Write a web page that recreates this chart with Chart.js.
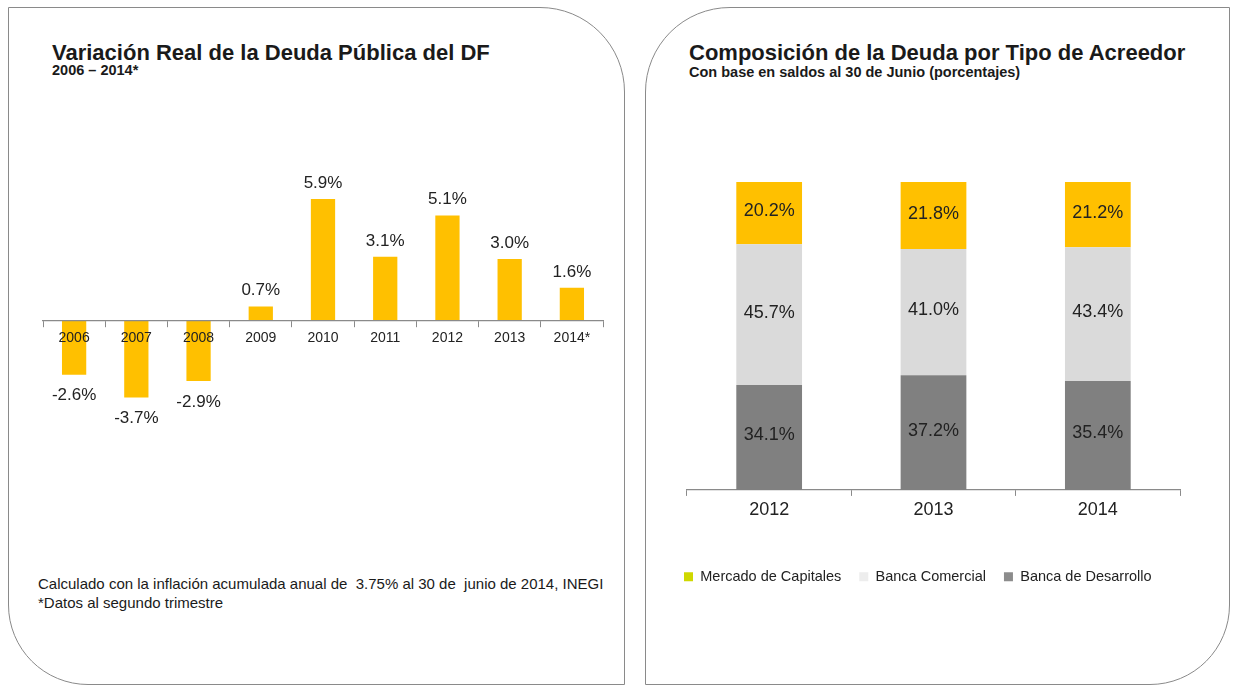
<!DOCTYPE html>
<html>
<head>
<meta charset="utf-8">
<script src="https://cdn.jsdelivr.net/npm/chart.js@4.4.1/dist/chart.umd.min.js"></script>
<style>
  body { margin: 0; background: #fff; width: 1236px; height: 685px; position: relative; overflow: hidden;
         font-family: "Liberation Sans", Arial, sans-serif; color: #1a1a1a; }
  .panel { position: absolute; border: 1.5px solid #8a8a8a; box-sizing: border-box; }
  #panelLeft { left: 8px; top: 7px; width: 617px; height: 678px; border-radius: 0 85px 0 80px; }
  #panelRight { left: 645px; top: 7px; width: 585px; height: 678px; border-radius: 85px 0 80px 0; }
  .title { position: absolute; font-weight: bold; font-size: 22px; line-height: 22px; white-space: nowrap; }
  .sub { position: absolute; font-weight: bold; font-size: 14.5px; line-height: 15px; white-space: nowrap; }
  .note { position: absolute; font-size: 15px; line-height: 15px; white-space: pre; left: 38px; }
  canvas { position: absolute; }
</style>
</head>
<body>
<div class="panel" id="panelLeft"></div>
<div class="panel" id="panelRight"></div>

<div class="title" style="left:52px; top:42px;">Variación Real de la Deuda Pública del DF</div>
<div class="sub" style="left:52px; top:63px;">2006 – 2014*</div>

<div class="title" style="left:689px; top:42px;">Composición de la Deuda por Tipo de Acreedor</div>
<div class="sub" style="left:689px; top:65px;">Con base en saldos al 30 de Junio (porcentajes)</div>

<div class="note" style="top:576px;">Calculado con la inflación acumulada anual de  3.75% al 30 de  junio de 2014, INEGI</div>
<div class="note" style="top:595px;">*Datos al segundo trimestre</div>

<div style="position:absolute; left:30px; top:140px; width:595px; height:320px;"><canvas id="variacion"></canvas></div>
<div style="position:absolute; left:660px; top:140px; width:570px; height:460px;"><canvas id="composicion"></canvas></div>

<script>
// datos: variacion real anual (%)
const years = ['2006', '2007', '2008', '2009', '2010', '2011', '2012', '2013', '2014*'];
const realChange = [-2.6, -3.7, -2.9, 0.7, 5.9, 3.1, 5.1, 3.0, 1.6];

// datos: composicion por acreedor (%)
const compYears = ['2012', '2013', '2014'];
const mercadoCapitales = [20.2, 21.8, 21.2];
const bancaComercial = [45.7, 41.0, 43.4];
const bancaDesarrollo = [34.1, 37.2, 35.4];

const YELLOW = '#FFC000';
const LIGHT = '#DADADA';
const DARK = '#808080';
// colores de los marcadores de la leyenda, como salen en el original
const legendMarks = ['#8C8C8C', '#EDEDED', '#CFD800'];

// etiquetas de valor sobre / dentro de las barras
const valueLabels = {
  id: 'valueLabels',
  afterDatasetsDraw(chart, args, opts) {
    const ctx = chart.ctx;
    ctx.save();
    ctx.font = opts.font;
    ctx.fillStyle = opts.color;
    ctx.textAlign = 'center';
    ctx.textBaseline = 'middle';
    chart.data.datasets.forEach(function(ds, i) {
      chart.getDatasetMeta(i).data.forEach(function(bar, j) {
        const v = ds.data[j];
        let y;
        if (opts.inside) {
          y = (bar.y + bar.base) / 2 - 2;
        } else {
          y = v >= 0 ? bar.y - opts.up : bar.y + opts.down;
        }
        ctx.fillText(v.toFixed(1) + '%', bar.x, y);
      });
    });
    ctx.restore();
  }
};

Chart.defaults.font.family = '"Liberation Sans", Arial, sans-serif';
Chart.defaults.color = '#1a1a1a';
Chart.defaults.animation = false;

new Chart(document.getElementById('variacion'), {
  type: 'bar',
  data: {
    labels: years,
    datasets: [{
      data: realChange,
      backgroundColor: YELLOW,
      barPercentage: 0.39,
      categoryPercentage: 1
    }]
  },
  options: {
    responsive: true,
    maintainAspectRatio: false,
    layout: { padding: { left: 13, right: 22, top: 46.5, bottom: 46 } },
    plugins: {
      legend: { display: false },
      tooltip: { enabled: false },
      valueLabels: { font: '17px "Liberation Sans", Arial, sans-serif', color: '#222', up: 16, down: 21 }
    },
    scales: {
      x: {
        position: { y: 0 },
        offset: true,
        // ejes y etiquetas por encima de las barras, como en el original
        grid: { display: true, drawOnChartArea: false, offset: true, tickLength: 6, color: '#8a8a8a', z: 1 },
        border: { display: true, color: '#8a8a8a', width: 1.2, z: 1 },
        ticks: { font: { size: 14 }, color: '#222', padding: 3, z: 1 }
      },
      y: { display: false, min: -4.5, max: 6.5 }
    }
  },
  plugins: [valueLabels]
});

new Chart(document.getElementById('composicion'), {
  type: 'bar',
  data: {
    labels: compYears,
    datasets: [
      { label: 'Banca de Desarrollo', data: bancaDesarrollo, backgroundColor: DARK },
      { label: 'Banca Comercial', data: bancaComercial, backgroundColor: LIGHT },
      { label: 'Mercado de Capitales', data: mercadoCapitales, backgroundColor: YELLOW }
    ]
  },
  options: {
    responsive: true,
    maintainAspectRatio: false,
    datasets: { bar: { barPercentage: 0.4, categoryPercentage: 1 } },
    layout: { padding: { left: 6, right: 50, top: 42, bottom: 6 } },
    plugins: {
      legend: {
        position: 'bottom',
        align: 'start',
        reverse: true,
        labels: {
          boxWidth: 9,
          boxHeight: 9,
          padding: 18,
          font: { size: 14.5 },
          color: '#222',
          generateLabels: function(chart) {
            const items = Chart.defaults.plugins.legend.labels.generateLabels(chart);
            items.forEach(function(it) {
              it.fillStyle = legendMarks[it.datasetIndex];
              it.strokeStyle = legendMarks[it.datasetIndex];
              it.lineWidth = 0;
            });
            return items;
          }
        }
      },
      tooltip: { enabled: false },
      valueLabels: { font: '18px "Liberation Sans", Arial, sans-serif', color: '#222', inside: true }
    },
    scales: {
      x: {
        stacked: true,
        grid: { display: true, drawOnChartArea: false, offset: true, tickLength: 6, color: '#8a8a8a' },
        border: { display: true, color: '#8a8a8a', width: 1.2 },
        ticks: { font: { size: 18 }, color: '#222', padding: 3 },
        afterFit: function(s) { s.height += 28; }
      },
      y: {
        stacked: true,
        min: 0,
        max: 100,
        display: true,
        grid: { display: false },
        border: { display: false },
        ticks: { display: false },
        afterFit: function(s) { s.width = 21; }
      }
    }
  },
  plugins: [valueLabels]
});
</script>
</body>
</html>
